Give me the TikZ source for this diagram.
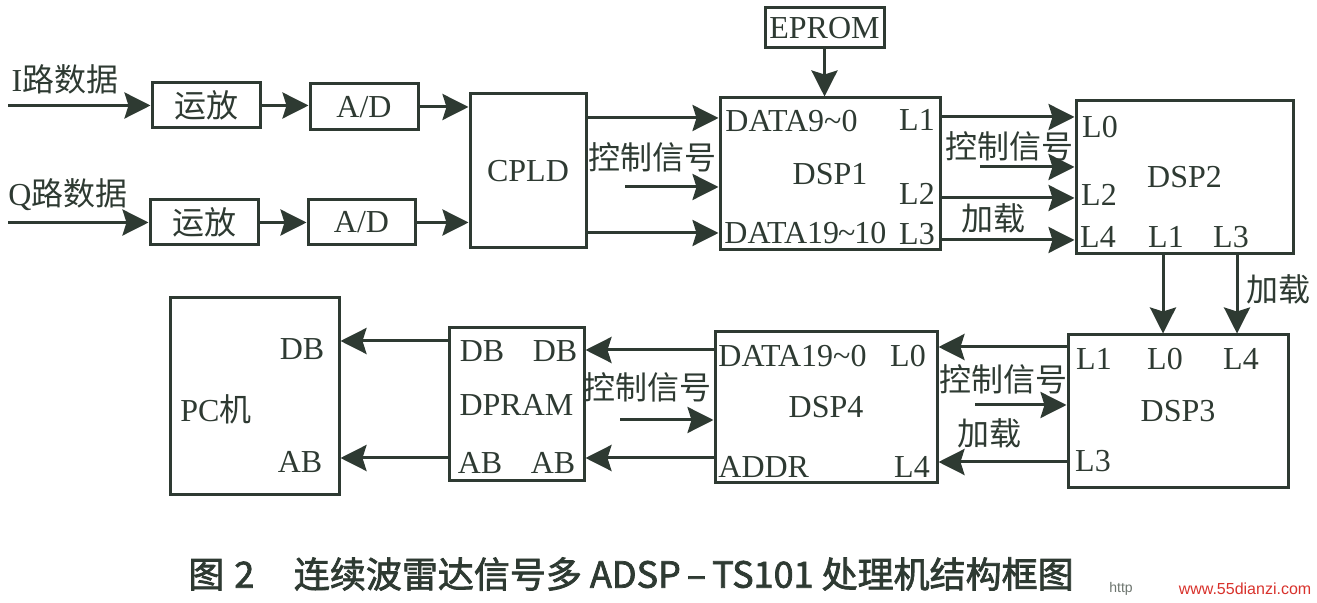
\documentclass[tikz,border=0pt]{standalone}
\usepackage{fontspec}
\setmainfont{Liberation Serif}
\setsansfont{Liberation Sans}
\newfontfamily\cjk{Noto Sans CJK SC}
\newfontfamily\hei{Noto Sans CJK SC}[AutoFakeBold=2]
\usepackage{tikz}
\usetikzlibrary{arrows.meta}
\definecolor{ink}{HTML}{2E3A32}
\definecolor{markred}{HTML}{D8322C}

\begin{document}
\begin{tikzpicture}[x=0.5pt, y=-0.5pt,
    wh/.style 2 args={minimum width=#1/2*1pt, minimum height=#2/2*1pt},
    box/.style={draw=ink, line width=1.5pt, inner sep=0pt, text=ink, font=\fontsize{16}{18}\selectfont},
    lbl/.style={text=ink, inner sep=0pt, font=\fontsize{16}{18}\selectfont},
    arr/.style={draw=ink, line width=1.5pt, -{Stealth[length=13pt, width=13pt, inset=2pt]}}]
\useasboundingbox (0,0) rectangle (1317,603);

% input chain
\node[box, wh={108}{45}] (amp1) at (206,105.5) {\cjk 运放};
\node[box, wh={108}{46}] (ad1) at (364,107) {A/D};
\node[box, wh={108}{45}] (amp2) at (204,222.5) {\cjk 运放};
\node[box, wh={107}{45}] (ad2) at (361.5,222.5) {A/D};
\node[box, wh={116}{154}] (cpld) at (528,171) {CPLD};
\node[lbl] (ilbl) at (65,79) {I{\cjk 路数据}};
\node[lbl] (qlbl) at (68,195) {Q{\cjk 路数据}};
\coordinate (iin) at (8,105.5);
\coordinate (qin) at (8,222.5);

% processors
\node[box, wh={119}{40}] (eprom) at (824.5,28) {EPROM};
\node[box, wh={220}{152}] (dsp1) at (830,174) {DSP1};
\node[box, wh={217}{153}] (dsp2) at (1184.5,177.5) {DSP2};
\node[box, wh={220}{153}] (dsp3) at (1178,411.5) {DSP3};
\node[box, wh={222}{151}] (dsp4) at (826,407.5) {DSP4};
\node[box, wh={135}{153}] (dpram) at (516.5,404.5) {DPRAM};
\node[box, wh={169}{197}] (pc) at (254.5,396.5) {};

% pin labels
\node[lbl, anchor=west] (d1da) at (725,121) {DATA9\textasciitilde0};
\node[lbl] (d1l1) at (917,120) {L1};
\node[lbl] (d1l2) at (917,194) {L2};
\node[lbl, anchor=west] (d1db) at (724,233) {DATA19\kern-0.5pt\textasciitilde\kern-0.5pt10};
\node[lbl] (d1l3) at (917,234) {L3};
\node[lbl] (d2l0) at (1100,127) {L0};
\node[lbl] (d2l2) at (1099,195) {L2};
\node[lbl] (d2l4) at (1098,237) {L4};
\node[lbl] (d2l1) at (1166,237) {L1};
\node[lbl] (d2l3) at (1231,237) {L3};
\node[lbl] (d3l1) at (1094,359) {L1};
\node[lbl] (d3l0) at (1165,359) {L0};
\node[lbl] (d3l4) at (1241,359) {L4};
\node[lbl] (d3l3) at (1093,461) {L3};
\node[lbl, anchor=west] (d4da) at (718,356) {DATA19\textasciitilde0};
\node[lbl] (d4l0) at (908,356) {L0};
\node[lbl, anchor=west] (d4ad) at (718,467) {ADDR};
\node[lbl] (d4l4) at (912,467) {L4};
\node[lbl] (rdb1) at (482,351) {DB};
\node[lbl] (rdb2) at (555,351) {DB};
\node[lbl] (rab1) at (480,463) {AB};
\node[lbl] (rab2) at (553,463) {AB};
\node[lbl] (pcdb) at (302,349) {DB};
\node[lbl] (pcab) at (300,462) {AB};
\node[lbl] (pclbl) at (216,409) {PC{\cjk 机}};

% signal labels
\node[lbl] (ctl1) at (652,157) {\cjk 控制信号};
\node[lbl] (ctl2) at (1009,146) {\cjk 控制信号};
\node[lbl] (ctl3) at (1003,379) {\cjk 控制信号};
\node[lbl] (ctl4) at (647,387) {\cjk 控制信号};
\node[lbl] (ld1) at (993,218) {\cjk 加载};
\node[lbl] (ld2) at (1278,289) {\cjk 加载};
\node[lbl] (ld3) at (989,433) {\cjk 加载};
\coordinate (c1) at (625,187);
\coordinate (c2) at (980,167);
\coordinate (c3) at (975,405);
\coordinate (c4) at (620,420);

% connections
\draw[arr] (iin) -- (amp1.west);
\draw[arr] (amp1.east) -- (amp1.east -| ad1.west);
\draw[arr] (ad1.east) -- (ad1.east -| cpld.west);
\draw[arr] (qin) -- (amp2.west);
\draw[arr] (amp2.east) -- (amp2.east -| ad2.west);
\draw[arr] (ad2.east) -- (ad2.east -| cpld.west);
\draw[arr] (cpld.east |- 0,118) -- (dsp1.west |- 0,118);
\draw[arr] (cpld.east |- 0,233) -- (dsp1.west |- 0,233);
\draw[arr] (c1) -- (c1 -| dsp1.west);
\draw[arr] (eprom.south) -- (eprom.south |- dsp1.north);
\draw[arr] (dsp1.east |- 0,117) -- (dsp2.west |- 0,117);
\draw[arr] (c2) -- (c2 -| dsp2.west);
\draw[arr] (dsp1.east |- 0,198) -- (dsp2.west |- 0,198);
\draw[arr] (dsp1.east |- 0,240) -- (dsp2.west |- 0,240);
\draw[arr] (dsp2.south -| 1163,0) -- (dsp3.north -| 1163,0);
\draw[arr] (dsp2.south -| 1237,0) -- (dsp3.north -| 1237,0);
\draw[arr] (dsp3.west |- 0,347) -- (dsp4.east |- 0,347);
\draw[arr] (c3) -- (c3 -| dsp3.west);
\draw[arr] (dsp3.west |- 0,462) -- (dsp4.east |- 0,462);
\draw[arr] (dsp4.west |- 0,350) -- (dpram.east |- 0,350);
\draw[arr] (c4) -- (c4 -| dsp4.west);
\draw[arr] (dsp4.west |- 0,458) -- (dpram.east |- 0,458);
\draw[arr] (dpram.west |- 0,341) -- (pc.east |- 0,341);
\draw[arr] (dpram.west |- 0,458) -- (pc.east |- 0,458);

% caption
\node[text=ink, inner sep=0pt, font=\hei\bfseries\fontsize{18}{20}\selectfont] (cap) at (631,574)
  {图\;2\hspace{1.1em}连续波雷达信号多 ADSP\,–\,TS101 处理机结构框图};
\node[text=ink!70, inner sep=0pt, font=\sffamily\fontsize{7}{8}\selectfont] (wm1) at (1121,589) {http};
\node[text=markred, inner sep=0pt, font=\sffamily\fontsize{8}{9}\selectfont] (wm2) at (1245,589) {www.55dianzi.com};
\end{tikzpicture}
\end{document}
